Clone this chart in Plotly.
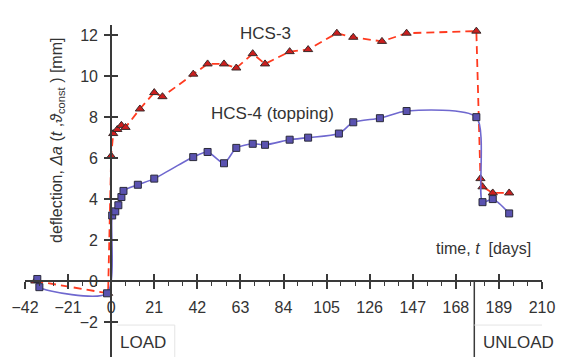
import plotly.graph_objects as go

# HCS-3 (red, dashed, triangles)
hcs3_days = [-37, -1.5, 0, 1, 3, 5, 7, 14, 21, 25, 40, 47, 55, 61, 69, 75, 87, 96, 110, 118, 132, 144, 178, 180, 181, 186, 194]
hcs3_vals = [0.0, -0.6, 6.1, 7.2, 7.4, 7.6, 7.5, 8.4, 9.2, 9.0, 10.1, 10.6, 10.6, 10.4, 11.1, 10.6, 11.2, 11.3, 12.1, 11.9, 11.7, 12.1, 12.2, 5.0, 4.6, 4.3, 4.3]

# HCS-4 (topping) (blue, solid spline, squares)
hcs4_days = [-36, -35, -2, 0.5, 2, 3.5, 5, 6, 13, 21, 40, 47, 55, 61, 69, 75, 87, 96, 111, 118, 131, 144, 178, 181, 186, 194]
hcs4_vals = [0.1, -0.3, -0.6, 3.2, 3.4, 3.7, 4.1, 4.4, 4.7, 5.0, 6.05, 6.3, 5.75, 6.5, 6.7, 6.65, 6.9, 7.0, 7.2, 7.75, 7.95, 8.3, 8.0, 3.85, 4.0, 3.3]

x_ticks = list(range(-42, 211, 21))
y_ticks = [-2, 0, 2, 4, 6, 8, 10, 12]

W, H = 563, 357
XMIN, XMAX = -42, 210
YMIN, YMAX = -3.71, 12.5
x_dom = [25 / W, 542 / W]
y_dom = [0, 332 / H]
x0_paper = x_dom[0] + (0 - XMIN) / (XMAX - XMIN) * (x_dom[1] - x_dom[0])
y0_paper = y_dom[0] + (0 - YMIN) / (YMAX - YMIN) * (y_dom[1] - y_dom[0])

FONT = "Liberation Sans, Arial, sans-serif"
TXT = "#333333"
AX = "#3a3a3a"

fig = go.Figure()

fig.add_trace(go.Scatter(
    x=hcs3_days, y=hcs3_vals, mode="lines+markers", name="HCS-3",
    line=dict(color="#ff3a1f", width=1.8, dash="8px,5px"),
    marker=dict(symbol="triangle-up", size=8, color="#cc1e1e", line=dict(color="#3a2a2a", width=1)),
    cliponaxis=False, showlegend=False,
))
fig.add_trace(go.Scatter(
    x=hcs4_days, y=hcs4_vals, mode="lines+markers", name="HCS-4 (topping)",
    line=dict(color="#6f68cf", width=1.6, shape="spline", smoothing=0.7),
    marker=dict(symbol="square", size=7, color="#5a52b0", line=dict(color="#2a2a3a", width=1)),
    cliponaxis=False, showlegend=False,
))

common_x = dict(range=[XMIN, XMAX], domain=x_dom, tickvals=x_ticks, showgrid=False,
                zeroline=False, automargin=False)
common_y = dict(range=[YMIN, YMAX], domain=y_dom, tickvals=y_ticks, showgrid=False,
                zeroline=False, automargin=False)

fig.update_layout(
    width=W, height=H,
    margin=dict(l=0, r=0, t=0, b=0, autoexpand=False),
    paper_bgcolor="white", plot_bgcolor="white",
    font=dict(family=FONT, color=TXT, size=16),
    xaxis=dict(**common_x, anchor="free", position=y0_paper,
               showline=True, linecolor=AX, linewidth=2,
               ticks="outside", ticklen=7, tickwidth=1.5, tickcolor=AX,
               ticklabelstandoff=5,
               minor=dict(dtick=7, tick0=0, ticks="outside", ticklen=4, tickcolor=AX, tickwidth=1),
               tickfont=dict(size=16, color=TXT, family=FONT)),
    xaxis2=dict(**common_x, overlaying="x", matches="x", anchor="free", position=y0_paper,
                showline=False, ticks="inside", ticklen=7, tickwidth=1.5, tickcolor=AX,
                showticklabels=False),
    yaxis=dict(**common_y, anchor="free", position=x0_paper,
               showline=True, linecolor=AX, linewidth=2,
               ticks="outside", ticklen=6, tickwidth=1.5, tickcolor=AX,
               ticklabelstandoff=3,
               tickfont=dict(size=16, color=TXT, family=FONT)),
    yaxis2=dict(**common_y, overlaying="y", matches="y", anchor="free", position=x0_paper,
                showline=False, ticks="inside", ticklen=6, tickwidth=1.5, tickcolor=AX,
                showticklabels=False),
)

# dummy trace to activate the overlay axes
fig.add_trace(go.Scatter(x=[None], y=[None], xaxis="x2", yaxis="y2", showlegend=False, hoverinfo="skip"))

# unload line and faint label boxes
fig.add_shape(type="line", xref="x", yref="y", x0=177, x1=177, y0=YMIN, y1=0,
              line=dict(color=AX, width=1.5))
fig.add_shape(type="line", xref="x", yref="y", x0=3, x1=31, y0=-2.15, y1=-2.15,
              line=dict(color="#e4e4e4", width=1))
fig.add_shape(type="line", xref="x", yref="y", x0=31, x1=31, y0=-2.15, y1=YMIN,
              line=dict(color="#e4e4e4", width=1))
fig.add_shape(type="line", xref="x", yref="y", x0=177, x1=210, y0=-2.15, y1=-2.15,
              line=dict(color="#e4e4e4", width=1))

ann = [
    dict(text="HCS-3", x=75.4, y=12.1, size=17),
    dict(text="HCS-4 (topping)", x=78.4, y=8.2, size=17),
    dict(text="time, <i>t</i>  [days]", x=181.7, y=1.6, size=16),
    dict(text="LOAD", x=15.5, y=-2.98, size=17),
    dict(text="UNLOAD", x=198.7, y=-3.02, size=17),
]
for a in ann:
    fig.add_annotation(text=a["text"], x=a["x"], y=a["y"], xref="x", yref="y",
                       showarrow=False, font=dict(size=a["size"], color=TXT, family=FONT))

fig.add_annotation(
    text="deflection, <i>Δa</i> (<i>t</i> ,<i>ϑ</i><sub>const</sub> ) [mm]",
    x=57 / W, y=(H - 141) / H, xref="paper", yref="paper", textangle=-90,
    xanchor="center", yanchor="middle",
    showarrow=False, font=dict(size=16, color=TXT, family=FONT))

fig.write_html("out.html", config={"displayModeBar": False},
               post_script="document.body.style.margin='0px';")
